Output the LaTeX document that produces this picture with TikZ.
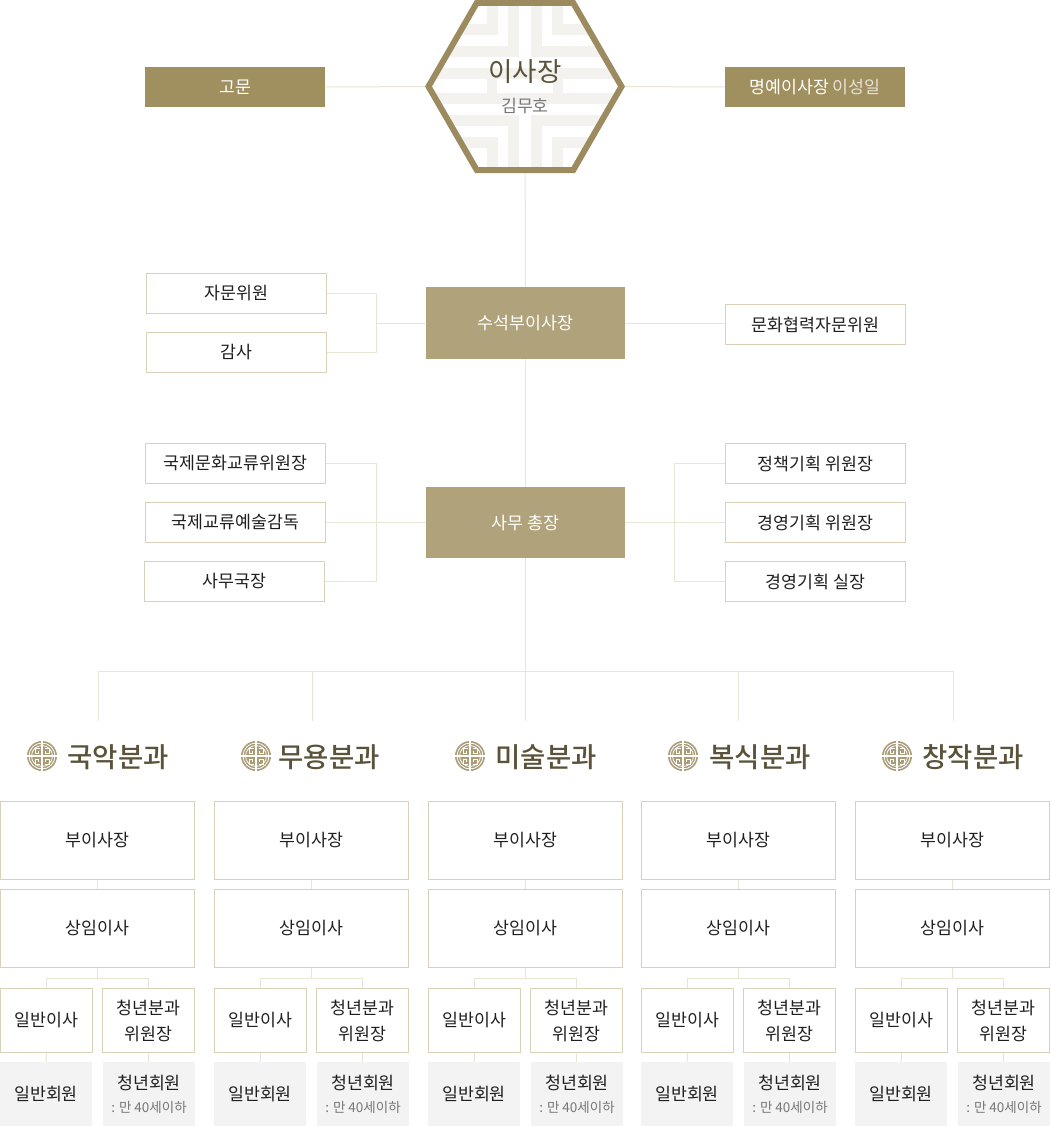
\documentclass[tikz,border=0pt]{standalone}
\usepackage{fontspec}
\usepackage{xcolor}
\usetikzlibrary{shapes.geometric}
\setmainfont{Noto Sans CJK KR}
\newfontfamily\headfont{Noto Sans CJK KR Medium}
\definecolor{goldline}{HTML}{9B8B5F}
\definecolor{goldbox}{HTML}{A08F5F}
\definecolor{sandbox}{HTML}{B0A37C}
\definecolor{wireline}{HTML}{E8E4D6}
\definecolor{boxline}{HTML}{D9D2B8}
\definecolor{patterngrey}{HTML}{F3F2EE}
\definecolor{memberfill}{HTML}{F3F3F3}
\definecolor{headtext}{HTML}{5A5239}
\definecolor{softtext}{HTML}{777777}
\tikzset{
  wire/.style={draw=wireline,line width=1pt},
  goldnode/.style={fill=goldbox,text=white,minimum width=180pt,minimum height=40pt,inner sep=0pt,font=\fontsize{17.3}{20}\selectfont},
  sandnode/.style={fill=sandbox,text=white,minimum width=199pt,minimum height=72pt,inner sep=0pt,font=\fontsize{17.3}{20}\selectfont},
  staffnode/.style={draw=boxline,line width=1pt,fill=white,text=black!88,minimum width=180pt,minimum height=40pt,inner sep=0pt,font=\fontsize{17.3}{20}\selectfont},
  rankwide/.style={draw=boxline,line width=1pt,fill=white,text=black!88,minimum width=194pt,minimum height=78pt,inner sep=0pt,font=\fontsize{17.3}{20}\selectfont},
  ranknarrow/.style={draw=boxline,line width=1pt,fill=white,text=black!88,minimum width=92pt,minimum height=64pt,inner sep=0pt,align=center,font=\fontsize{17.3}{26}\selectfont},
  membernode/.style={fill=memberfill,text=black!88,minimum width=92pt,minimum height=64pt,inner sep=0pt,align=center,font=\fontsize{17.3}{26}\selectfont},
  headnode/.style={text=headtext,inner sep=0pt,font=\fontsize{27.5}{30}\selectfont\headfont},
  knot/.pic={
    \fill [goldline!85] (0,0) circle (15);
    \draw [white,line width=0.8pt] (0,0) circle (13);
    \draw [white,line width=0.8pt] (0,0) circle (10.5);
    \draw [white,line width=1.2pt] (-15,0) -- (15,0);
    \draw [white,line width=1.2pt] (0,-15) -- (0,15);
    \foreach \sx in {-1,1} {
      \foreach \sy in {-1,1} {
        \draw [white,line width=0.8pt] (\sx*2.5,\sy*8) -- (\sx*7,\sy*8) -- (\sx*7,\sy*3) -- (\sx*3.5,\sy*3) -- (\sx*3.5,\sy*5.5);
      }
    }
  }
}
\begin{document}
\begin{tikzpicture}[x=1pt,y=-1pt]
\useasboundingbox (0,0) rectangle (1050,1126);

% background pattern of the hexagon
\begin{scope}
\clip (429,86.5) -- (477,3) -- (573,3) -- (621,86.5) -- (573,170) -- (477,170) -- cycle;
\foreach \sx in {-1,1} {
  \foreach \sy in {-1,1} {
    \begin{scope}[shift={(525,86.5)},xscale=\sx,yscale=\sy]
    \fill [patterngrey] (-37.7,-90) rectangle (-26.7,-51);
    \fill [patterngrey] (-70,-62) rectangle (-26.7,-51);
    \fill [patterngrey] (-16.7,-90) rectangle (-6,-29);
    \fill [patterngrey] (-80,-40) rectangle (-6,-29);
    \fill [patterngrey] (-100,-18) rectangle (0,-7);
    \fill [patterngrey] (-37.7,-18) rectangle (-28,0);
    \end{scope}
  }
}
\end{scope}

% top row
\node [regular polygon,regular polygon sides=6,draw=goldline,line width=6pt,minimum size=193pt,inner sep=0pt,outer sep=3pt] (chief) at (525,86.5) {};
\node [text=headtext,inner sep=0pt,font=\fontsize{26.5}{28}\selectfont] (chieftitle) at (525,72) {이사장};
\node [text=softtext,inner sep=0pt,font=\fontsize{17.3}{20}\selectfont] (chiefname) at (525,106) {김무호};
\node [goldnode] (adviser) at (235,87) {고문};
\node [goldnode] (honorary) at (815,87) {명예이사장 \textcolor{white!75!goldbox}{이성일}};
\draw [wire] (adviser) -- (chief);
\draw [wire] (chief) -- (honorary);

% second row
\node [sandnode] (firstvice) at (525.5,323) {수석부이사장};
\node [staffnode] (counsel) at (236.5,293) {자문위원};
\node [staffnode] (audit) at (236.5,352) {감사};
\node [staffnode] (culture) at (815.5,324.5) {문화협력자문위원};
\coordinate (joinup) at (376.5,323);
\draw [wire] (counsel.east) -| (joinup);
\draw [wire] (audit.east) -| (joinup);
\draw [wire] (joinup) -- (firstvice);
\draw [wire] (firstvice.east) -- (culture.west |- firstvice.east);

% third row
\node [sandnode,minimum height=71pt] (general) at (525.5,522.5) {사무 총장};
\node [staffnode] (intl) at (235.5,463.5) {국제문화교류위원장};
\node [staffnode] (art) at (235.5,522.5) {국제교류예술감독};
\node [staffnode] (office) at (234.5,581.5) {사무국장};
\node [staffnode] (policy) at (815.5,463.5) {정책기획 위원장};
\node [staffnode] (manage) at (815.5,522.5) {경영기획 위원장};
\node [staffnode] (plan) at (815.5,581.5) {경영기획 실장};
\coordinate (joinleft) at (376.5,522.5);
\coordinate (joinright) at (674.5,522.5);
\draw [wire] (intl.east) -| (joinleft);
\draw [wire] (office.east) -| (joinleft);
\draw [wire] (art) -- (general);
\draw [wire] (policy.west) -| (joinright);
\draw [wire] (plan.west) -| (joinright);
\draw [wire] (general) -- (manage);

% trunk and bus
\coordinate (busmid) at (525.5,671);
\draw [wire] (chief) -- (firstvice);
\draw [wire] (firstvice) -- (general);
\draw [wire] (general) -- (busmid);
\coordinate (busleft) at (98.5,671);
\coordinate (busright) at (953.5,671);
\draw [wire] (busleft) -- (busright);

% the five divisions
\foreach \col/\x/\dx/\ix/\hx/\headlabel in {a/97.5/98.5/42/118/국악분과,b/311.5/312.5/256/329/무용분과,c/525.5/525.5/470/546/미술분과,d/738.5/738.5/683/760/복식분과,e/952.5/953.5/897/973/창작분과} {
  \coordinate (bus\col) at (\dx,671);
  \coordinate (drop\col) at (\dx,721);
  \draw [wire] (bus\col) -- (drop\col);
  \pic at (\ix,756) {knot};
  \node [headnode] (head\col) at (\hx,757) {\headlabel};
  \node [rankwide] (vice\col) at (\x,840.5) {부이사장};
  \node [rankwide] (exec\col) at (\x,928.5) {상임이사};
  \node [ranknarrow] (board\col) at (\x-51,1020.5) {일반이사};
  \node [ranknarrow] (youth\col) at (\x+51,1020.5) {청년분과\\위원장};
  \node [membernode] (member\col) at (\x-51.5,1094) {일반회원};
  \node [membernode] (young\col) at (\x+51.5,1094) {청년회원\\[-3pt]{\fontsize{13.5}{16}\selectfont\color{softtext}: 만 40세이하}};
  \coordinate (split\col) at (\x,978.5);
  \draw [wire] (vice\col) -- (exec\col);
  \draw [wire] (exec\col) -- (split\col);
  \draw [wire] (board\col.north) |- (split\col) -| (youth\col.north);
  \draw [wire] (board\col) -- (member\col);
  \draw [wire] (youth\col.south) -- (youth\col.south |- young\col.north);
}
\end{tikzpicture}
\end{document}
